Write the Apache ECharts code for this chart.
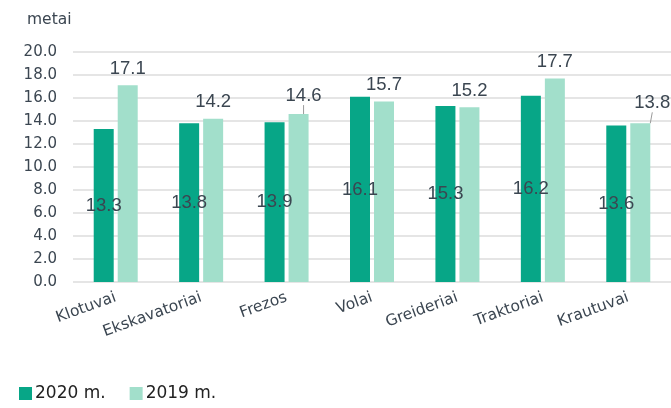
<!DOCTYPE html>
<html>
<head>
<meta charset="utf-8">
<script src="https://cdn.jsdelivr.net/npm/echarts@6/dist/echarts.min.js"></script>
<style>
html,body{margin:0;padding:0;background:#fff;}
#c{width:671px;height:408px;}
</style>
</head>
<body>
<div id="c"></div>
<script>
var categories = ['Klotuvai', 'Ekskavatoriai', 'Frezos', 'Volai', 'Greideriai', 'Traktoriai', 'Krautuvai'];
var values2020 = [13.3, 13.8, 13.9, 16.1, 15.3, 16.2, 13.6];
var values2019 = [17.1, 14.2, 14.6, 15.7, 15.2, 17.7, 13.8];
var seriesNames = ['2020 m.', '2019 m.'];
var unitLabel = 'metai';

var textColor = '#3b4651';
var axisFont = '"DejaVu Sans", sans-serif';
var valueFont = '"Liberation Sans", Arial, sans-serif';

// small manual label nudges like in the original (with leader lines)
var moved = {2: [5, -2], 6: [12, -4]};

var data2019 = values2019.map(function (v, i) {
  var item = {value: v};
  if (moved[i]) {
    item.labelLine = {show: true, lineStyle: {color: '#9a9a9a', width: 1}};
  }
  return item;
});

var chart = echarts.init(document.getElementById('c'), null, {renderer: 'canvas'});
chart.setOption({
  animation: false,
  title: {
    text: unitLabel,
    left: 22,
    top: 7,
    textStyle: {fontFamily: axisFont, fontSize: 15.5, fontWeight: 'normal', color: textColor}
  },
  legend: {
    left: 14,
    bottom: 1,
    icon: 'rect',
    itemWidth: 13,
    itemHeight: 13,
    itemGap: 24,
    textStyle: {fontFamily: axisFont, fontSize: 17, color: '#222', padding: [0, 0, 0, -2]},
    data: seriesNames
  },
  grid: {left: 73, right: 0, top: 52, bottom: 126},
  xAxis: {
    type: 'category',
    data: categories,
    axisLine: {show: false},
    axisTick: {show: false},
    axisLabel: {
      rotate: 20,
      margin: 15,
      fontFamily: axisFont,
      fontSize: 15.5,
      color: textColor,
      interval: 0
    }
  },
  yAxis: {
    type: 'value',
    min: 0,
    max: 20,
    interval: 2,
    axisLine: {show: false},
    axisTick: {show: false},
    splitLine: {lineStyle: {color: '#dddddd', width: 1.5}},
    axisLabel: {
      margin: 16,
      fontFamily: axisFont,
      fontSize: 15,
      color: textColor,
      formatter: function (v) { return v.toFixed(1); }
    }
  },
  series: [
    {
      name: seriesNames[0],
      type: 'bar',
      data: values2020,
      barWidth: 20,
      barGap: '20%',
      itemStyle: {color: '#07a687'},
      label: {
        show: true,
        position: 'inside',
        fontFamily: valueFont,
        fontSize: 18.5,
        color: textColor,
        formatter: function (p) { return p.value.toFixed(1); }
      }
    },
    {
      name: seriesNames[1],
      type: 'bar',
      data: data2019,
      barWidth: 20,
      itemStyle: {color: '#a2dfcb'},
      label: {
        show: true,
        position: 'top',
        distance: 7,
        fontFamily: valueFont,
        fontSize: 18.5,
        color: textColor,
        formatter: function (p) { return p.value.toFixed(1); }
      },
      labelLayout: function (params) {
        var m = moved[params.dataIndex];
        if (m) return {dx: m[0], dy: m[1]};
        return {};
      }
    }
  ]
});
</script>
</body>
</html>
